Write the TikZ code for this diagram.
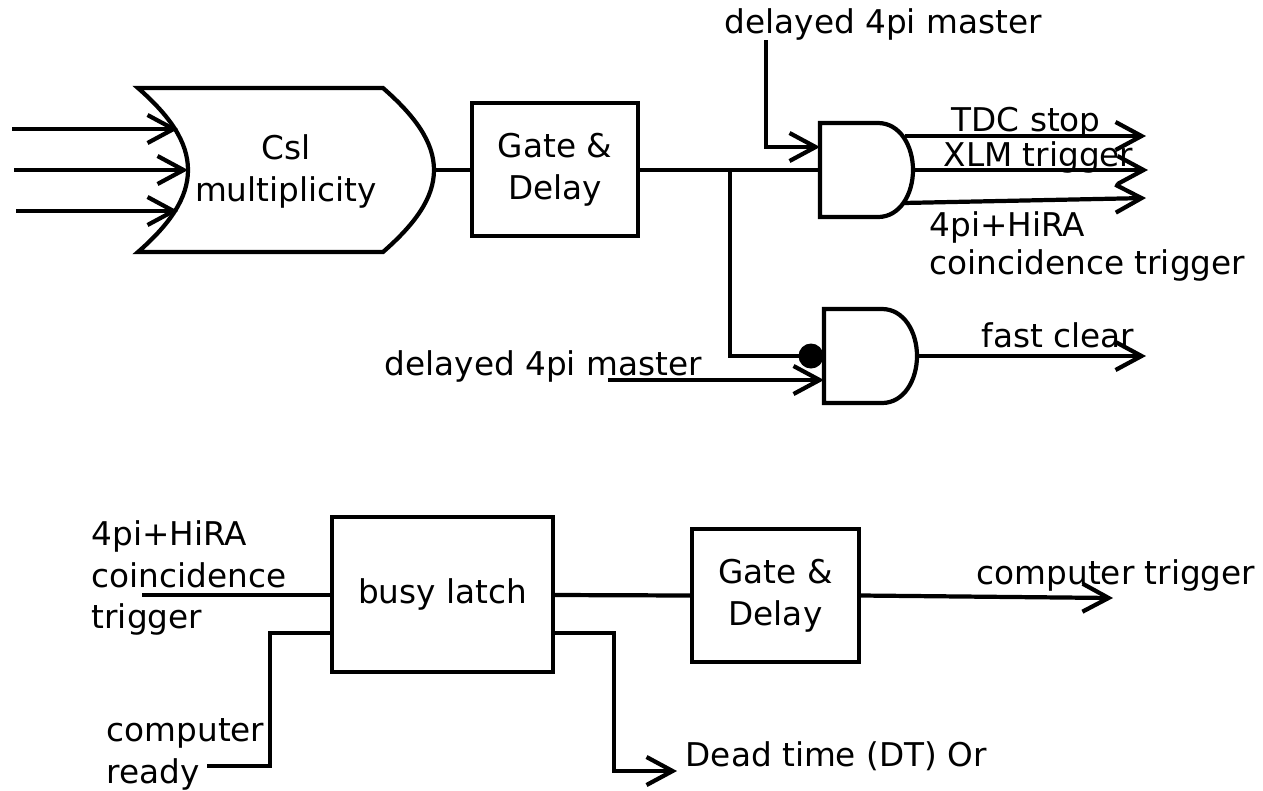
\documentclass[tikz,border=0pt]{standalone}
\usepackage{fontspec}
\setmainfont{DejaVu Sans}
\usetikzlibrary{arrows.meta}
\tikzset{
  wire/.style={line width=1.2pt},
  sig/.style={wire,-{Straight Barb[length=0.26cm,width=0.28cm,line width=1.2pt]}},
  lbl/.style={inner sep=0pt,font=\fontsize{9.3}{11.9}\selectfont},
  box/.style={draw,line width=1.2pt,inner sep=0pt,align=center,font=\fontsize{9.3}{11.9}\selectfont}
}
\begin{document}
\begin{tikzpicture}[x=0.01cm,y=-0.01cm]
\useasboundingbox (0,0) rectangle (1263,790);

% Multiplicity shape
\draw[wire,line join=miter] (138,88) -- (383,88) .. controls (415,116) and (434,142) .. (434,170)
  .. controls (434,198) and (415,224) .. (383,252) -- (138,252)
  .. controls (170,224) and (188,198) .. (188,170) .. controls (188,142) and (170,116) .. (138,88) -- cycle;
\node[lbl,align=center] (csl) at (286,171.5) {Csl\\multiplicity};
\coordinate (cslOut) at (434,170);
\coordinate (inAend) at (178,129);
\coordinate (inBend) at (188,170);
\coordinate (inCend) at (178,211);
\coordinate (inA) at (12,129);
\coordinate (inB) at (14,170);
\coordinate (inC) at (16,211);
\draw[sig] (inA) -- (inAend);
\draw[sig] (inB) -- (inBend);
\draw[sig] (inC) -- (inCend);

% Upper row
\node[box,minimum width=1.66cm,minimum height=1.33cm] (gateA) at (555,169.5) {Gate \&\\Delay};
\draw[wire] (cslOut) -- (gateA.west |- cslOut);

% AND gates
\draw[wire] (820,123) -- (878,123) .. controls (900,123) and (913,146) .. (913,170)
  .. controls (913,194) and (900,217) .. (878,217) -- (820,217) -- cycle;
\draw[wire] (824,309) -- (882,309) .. controls (904,309) and (917,332) .. (917,356)
  .. controls (917,380) and (904,403) .. (882,403) -- (824,403) -- cycle;
\coordinate (andIn) at (820,170);
\coordinate (andMid) at (913,170);
\coordinate (andTop) at (905,136);
\coordinate (andBot) at (903,203);
\coordinate (vetoOut) at (917,356);
\coordinate (split) at (730,170);
\fill (811,356) circle (12.5) coordinate (vetoDot);

\draw[wire] (gateA.east |- split) -- (andIn);
\draw[wire] (split) -- (730,356) -- (vetoDot);

\node[lbl,anchor=base west] (masterA) at (724,33) {delayed 4pi master};
\coordinate (masterAend) at (820,147);
\draw[sig] (766,40) -- (766,147) -- (masterAend);
\node[lbl,anchor=base west] (masterB) at (384,375) {delayed 4pi master};
\coordinate (masterBstart) at (608,380);
\coordinate (masterBend) at (824,380);
\draw[sig] (masterBstart) -- (masterBend);

% Outputs
\coordinate (tdcEnd) at (1146,136);
\coordinate (xlmEnd) at (1148,170);
\coordinate (coinEnd) at (1146,198);
\coordinate (clearEnd) at (1146,356);
\draw[sig] (andTop) -- (tdcEnd);
\draw[sig] (andMid) -- (xlmEnd);
\draw[sig] (andBot) -- (coinEnd);
\draw[sig] (vetoOut) -- (clearEnd);
\node[lbl,anchor=base west] (tdc) at (951,131) {TDC stop};
\node[lbl,anchor=base west] (xlm) at (943,166) {XLM trigger};
\node[lbl,anchor=west,align=left,font=\fontsize{9.3}{10.6}\selectfont] (coin) at (929,246.5) {4pi+HiRA\\coincidence trigger};
\node[lbl,anchor=base west] (clear) at (981,347) {fast clear};

% Lower row
\node[box,minimum width=2.21cm,minimum height=1.55cm] (latch) at (442.5,594.5) {busy latch};
\node[box,minimum width=1.67cm,minimum height=1.33cm] (gateB) at (775.5,595.5) {Gate \&\\Delay};
\node[lbl,anchor=west,align=left] (trig) at (91,578) {4pi+HiRA\\coincidence\\trigger};
\coordinate (trigStart) at (142,595);
\draw[wire] (trigStart) -- (latch.west |- trigStart);
\node[lbl,anchor=west,align=left] (ready) at (106,754) {computer\\ready};
\coordinate (readyStart) at (207,766);
\coordinate (readyIn) at (332,633);
\draw[wire] (readyStart) -- (270,766) -- (270,633) -- (readyIn);
\draw[wire] (latch.east |- trigStart) -- (gateB.west);
\coordinate (compEnd) at (1113,598);
\draw[sig] (gateB.east) -- (compEnd);
\node[lbl,anchor=base west] (comp) at (976,584) {computer trigger};
\coordinate (dtStart) at (553,633);
\coordinate (dtEnd) at (677,771);
\draw[sig] (dtStart) -- (614,633) -- (614,771) -- (dtEnd);
\node[lbl,anchor=base west] (dt) at (685,766) {Dead time (DT) Or};
\end{tikzpicture}
\end{document}
